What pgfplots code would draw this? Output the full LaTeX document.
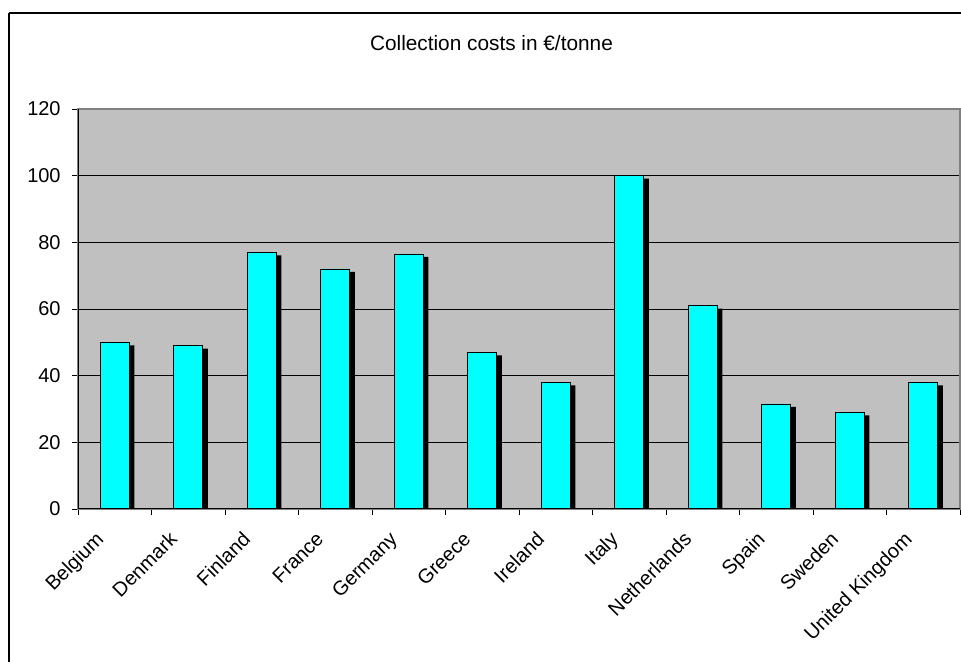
\documentclass[border=0pt]{standalone}
\usepackage{fontspec}
\setmainfont{Liberation Sans}
\usepackage{pgfplots}
\usepackage{pgfplotstable}
\pgfplotsset{compat=1.18}
\definecolor{plotgray}{RGB}{192,192,192}
\definecolor{edgegray}{RGB}{128,128,128}
\definecolor{barcyan}{RGB}{0,255,255}
\pgfplotstableread{
x v
1 50
2 49
3 77
4 72
5 76.5
6 47
7 38
8 100
9 61
10 31.5
11 29
12 38
}\costs
\begin{document}
\begin{tikzpicture}
\useasboundingbox (0,0) rectangle (720.75pt,495.75pt);
\draw[line width=1.5pt] (7.1pt,486pt) -- (730pt,486pt);
\draw[line width=1.5pt] (7.1pt,486pt) -- (7.1pt,-10pt);
\node[font=\fontsize{15.6}{18}\selectfont] at (368.6pt,463.5pt) {Collection costs in €/tonne};
\begin{axis}[
 at={(58.5pt,114pt)}, anchor=south west,
 scale only axis, width=661.5pt, height=300pt,
 xmin=0.5, xmax=12.5, ymin=0, ymax=120,
 ytick={0,20,...,120},
 xtick={1,...,12},
 xticklabels={Belgium,Denmark,Finland,France,Germany,Greece,Ireland,Italy,Netherlands,Spain,Sweden,United Kingdom},
 minor xtick={0.5,1.5,...,12.5},
 major x tick style={draw=none},
 minor x tick style={black, line width=0.6pt},
 major y tick style={black, line width=0.6pt},
 tick align=outside,
 major tick length=4.5pt, minor tick length=4.5pt,
 xtick pos=bottom, ytick pos=left,
 ymajorgrids, grid style={black, line width=0.6pt},
 axis background/.style={fill=plotgray},
 axis line style={edgegray, line width=0.8pt},
 /pgf/number format/assume math mode=true,
 tick label style={font=\fontsize{15}{17}\selectfont},
 yticklabel style={xshift=-5pt},
 xticklabel style={xshift=-15.3pt, yshift=-11.4pt, rotate=45, anchor=north east, inner sep=0pt},
]
\addplot[ybar, bar width=21.75pt, bar shift=3.75pt, fill=black, draw=none]
  table[x=x, y expr=\thisrow{v}-0.9] {\costs};
\addplot[ybar, bar width=21.75pt, bar shift=0pt, fill=barcyan, draw=black, line width=0.6pt]
  table[x=x, y=v] {\costs};
\draw[black, line width=0.8pt] (rel axis cs:0,1) -- (rel axis cs:0,0) -- (rel axis cs:1,0);
\end{axis}
\end{tikzpicture}
\end{document}
